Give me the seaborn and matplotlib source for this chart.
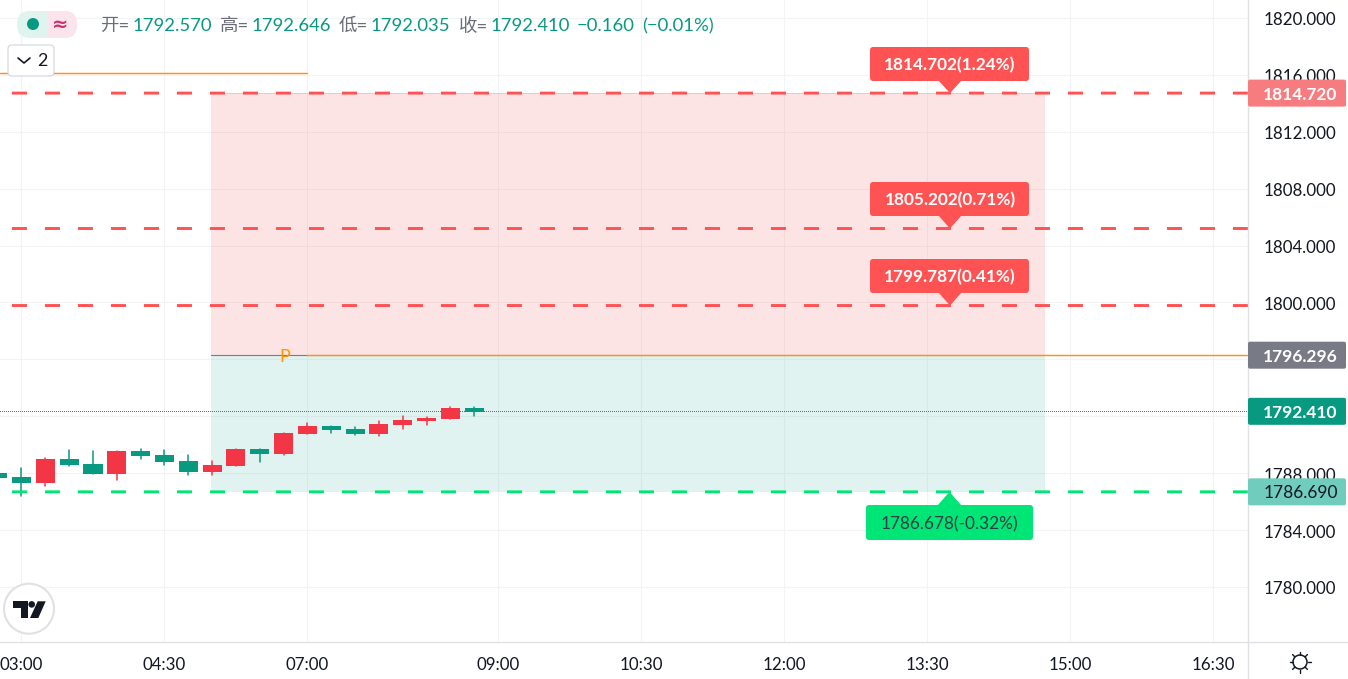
import numpy as np
import pandas as pd
import matplotlib
matplotlib.use("Agg")
import matplotlib.pyplot as plt
from matplotlib.patches import Circle, FancyBboxPatch, Polygon, Rectangle
from matplotlib.transforms import ScaledTranslation
import seaborn as sns

# 15 minute bars, bar number 0 is the 03:00 candle
bar_ids = list(range(-1, 20))
opens = [1788.01, 1787.73, 1787.31, 1789.00, 1788.65, 1787.94, 1789.56, 1789.28, 1788.86, 1788.08, 1788.51,
         1789.70, 1789.35, 1790.76, 1791.32, 1791.11, 1790.76, 1791.39, 1791.67, 1791.81, 1792.570]
highs = [1788.01, 1788.37, 1789.07, 1789.63, 1789.56, 1789.56, 1789.70, 1789.63, 1789.28, 1788.86, 1789.70,
         1789.70, 1790.83, 1791.53, 1791.32, 1791.25, 1791.67, 1792.02, 1791.95, 1792.65, 1792.646]
lows = [1787.66, 1786.40, 1787.10, 1788.51, 1787.94, 1787.52, 1789.00, 1788.58, 1787.87, 1787.87, 1788.51,
        1788.79, 1789.28, 1790.76, 1790.83, 1790.69, 1790.62, 1791.11, 1791.39, 1791.81, 1792.035]
closes = [1787.66, 1787.31, 1789.00, 1788.58, 1787.94, 1789.56, 1789.21, 1788.79, 1788.08, 1788.58, 1789.70,
          1789.35, 1790.83, 1791.32, 1791.04, 1790.76, 1791.46, 1791.74, 1791.88, 1792.58, 1792.33]

time_bars = [0, 6, 12, 20, 26, 32, 38, 44, 50]
time_labels = ["03:00", "04:30", "07:00", "09:00", "10:30", "12:00", "13:30", "15:00", "16:30"]
price_ticks = [1780, 1784, 1788, 1792, 1796, 1800, 1804, 1808, 1812, 1816, 1820]
# 1792 and 1796 sit behind the price tags
price_labels = ["1780.000", "1784.000", "1788.000", "", "", "1800.000", "1804.000", "1808.000", "1812.000",
                "1816.000", "1820.000"]

entry = 1796.296
last_close = 1792.35
old_level = 1816.13
stop_levels = [1814.720, 1805.202, 1799.787]
stop_labels = ["1814.702(1.24%)", "1805.202(0.71%)", "1799.787(0.41%)"]
target_level = 1786.690
target_label = "1786.678(-0.32%)"
zone_top = 1814.720
zone_bottom = 1786.690

legend_parts = [("开=", 100), ("1792.570", 133), ("高=", 220), ("1792.646", 252), ("低=", 339), ("1792.035", 371),
                ("收=", 459), ("1792.410", 491), ("−0.160", 577), ("(−0.01%)", 642)]

UP = "#f23645"
DOWN = "#089981"
STOP = "#ff5252"
TARGET = "#00e676"
ORANGE = "#f7931a"
GRID = "#f2f3f5"
BORDER = "#e0e1e4"
INK = "#131722"

sns.set_theme(style="white")
plt.rcParams["font.family"] = ["Lato", "Noto Sans CJK SC", "DejaVu Sans"]
plt.rcParams["lines.scale_dashes"] = False

W, H = 1348, 679
fig = plt.figure(figsize=(W / 100, H / 100), dpi=100, facecolor="white")
ax = fig.add_axes([0, 37 / H, 1248 / W, 642 / H])

# zones first so the grid shows through
zone_start, zone_end = 7.96, 42.95
ax.fill_between([zone_start, zone_end], entry, zone_top, color="#f85050", alpha=0.15, lw=0, zorder=1)
ax.fill_between([zone_start, zone_end], zone_bottom, entry, color="#05a38a", alpha=0.12, lw=0, zorder=1)

candles = pd.DataFrame({"bar": bar_ids, "open": opens, "high": highs, "low": lows, "close": closes})
candles["side"] = np.where(candles["close"] >= candles["open"], "up", "down")
candles["body_low"] = candles[["open", "close"]].min(axis=1)
candles["body_size"] = (candles["close"] - candles["open"]).abs()
palette = {"up": UP, "down": DOWN}

wicks = candles.melt(id_vars=["bar", "side"], value_vars=["low", "high"], value_name="price")
sns.lineplot(data=wicks, x="bar", y="price", hue="side", units="bar", estimator=None, sort=False,
             palette=palette, linewidth=1.1, legend=False, ax=ax, zorder=4)
for side, rows in candles.groupby("side"):
    sns.barplot(data=rows, x="bar", y="body_size", bottom=rows["body_low"].to_numpy(), native_scale=True,
                color=palette[side], saturation=1, width=0.8, errorbar=None, linewidth=0, ax=ax, zorder=5)

x_min, x_max = -0.902, 51.47
line_start = -0.4
dash = (0, (15 * 0.72, 18 * 0.72))
for level in stop_levels:
    ax.plot([line_start, x_max], [level, level], color=STOP, lw=2.1, linestyle=dash, dash_capstyle="butt",
            snap=False, zorder=6)
ax.plot([line_start, x_max], [target_level, target_level], color=TARGET, lw=2.1, linestyle=dash,
        dash_capstyle="butt", snap=False, zorder=6)

ax.plot([zone_start, 12], [entry, entry], color="#787b86", lw=0.8, zorder=6)
ax.plot([12, x_max], [entry, entry], color=ORANGE, lw=1.05, zorder=6)
ax.plot([x_min, 12], [old_level, old_level], color=ORANGE, lw=1.05, zorder=6)
ax.plot([x_min, x_max], [last_close, last_close], color=DOWN, lw=0.75, linestyle=(0, (0.72, 1.44)),
        antialiased=False, zorder=3)
ax.plot([zone_start, zone_end], [zone_top, zone_top], color="#d9c9cc", lw=0.6, zorder=2)
ax.text(11.05, entry - 0.12, "P", color="#ff9800", fontsize=13, ha="center", va="center", zorder=7)

ax.set_xlim(x_min, x_max)
ax.set_ylim(1780 - 55 / 14.225, 1780 + 587 / 14.225)
ax.set_xticks(time_bars, time_labels)
ax.set_yticks(price_ticks, price_labels)
ax.yaxis.tick_right()
ax.tick_params(axis="x", length=0, pad=11, labelsize=12.2, labelcolor=INK)
ax.tick_params(axis="y", length=0, pad=11.5, labelsize=12.2, labelcolor=INK)
ax.set_xlabel("")
ax.set_ylabel("")
ax.grid(True, color=GRID, lw=0.75)
ax.set_axisbelow(True)
for spine in ax.spines.values():
    spine.set_visible(False)
for label in ax.get_yticklabels():
    label.set_transform(label.get_transform() + ScaledTranslation(0, -1 / 100, fig.dpi_scale_trans))

# overlay in screen pixels for tags and chart furniture
ov = fig.add_axes([0, 0, 1, 1], zorder=10)
ov.set_xlim(0, W)
ov.set_ylim(H, 0)
ov.axis("off")


def py(price):
    return H - ax.transData.transform((0, price))[1]


def box(x0, y0, x1, y1, color, round_px=3, edge="none", lw=0, z=3):
    ov.add_patch(FancyBboxPatch((x0 + round_px, y0 + round_px), x1 - x0 - 2 * round_px, y1 - y0 - 2 * round_px,
                                boxstyle=f"round,pad={round_px},rounding_size={round_px}",
                                facecolor=color, edgecolor=edge, lw=lw, zorder=z))


ov.plot([0, W], [642, 642], color=BORDER, lw=1.0, zorder=1)
ov.plot([1248, 1248], [0, H], color=BORDER, lw=1.0, zorder=1)

# tags on the price scale
scale_tags = [(zone_top, "1814.720", "#f77c80", "white", "bold"), (entry, "1796.296", "#787b86", "white", "bold"),
              (last_close, "1792.410", DOWN, "white", "bold"), (target_level, "1786.690", "#70ccbd", INK, "normal")]
for price, label, bg, fg, weight in scale_tags:
    y = py(price)
    box(1248, y - 13.5, 1346, y + 13.5, bg, round_px=2)
    ov.text(1300.5, y + 1.5, label, color=fg, fontsize=12.5, fontweight=weight, ha="center", va="center", zorder=4)

# stop and target callouts
callout_tops = [47, 182, 259]
for level, label, top in zip(stop_levels, stop_labels, callout_tops):
    box(870, top, 1029, top + 34, STOP, round_px=3)
    ov.add_patch(Polygon([(938, top + 33), (962, top + 33), (950, py(level))], facecolor=STOP, lw=0, zorder=3))
    ov.text(950, top + 18, label, color="white", fontsize=12.4, fontweight="bold", ha="center", va="center", zorder=4)

box(866, 505, 1033, 540, TARGET, round_px=3)
ov.add_patch(Polygon([(937, 506), (962, 506), (949.5, py(target_level))], facecolor=TARGET, lw=0, zorder=3))
ov.text(949.5, 524, target_label, color="#2e3f48", fontsize=12.4, ha="center", va="center", zorder=4)

# legend line
for text, x in legend_parts:
    color = "#6a6d78" if text.endswith("=") else DOWN
    ov.text(x, 26, text, color=color, fontsize=13.3, ha="left", va="center", zorder=4)

# status pill
box(17, 11, 77, 38, "#dff3ef", round_px=13, z=2)
box(47, 11, 77, 38, "#fce4ec", round_px=13, z=2)
ov.add_patch(Rectangle((47, 11), 12, 27, facecolor="#fce4ec", lw=0, zorder=2))
ov.add_patch(Circle((33, 24), 6, facecolor=DOWN, lw=0, zorder=3))
ov.text(60, 24, "≈", color="#cc2f6c", fontsize=14, fontweight="bold", family="DejaVu Sans",
        ha="center", va="center", zorder=3)

# collapse button
box(8, 45, 54, 76, "white", round_px=4, edge="#d1d4dc", lw=0.8, z=5)
ov.plot([18, 24, 30], [58, 63, 58], color=INK, lw=1.2, zorder=6)
ov.text(42, 61, "2", color=INK, fontsize=13, ha="center", va="center", zorder=6)

# logo badge
ov.add_patch(Circle((29, 608.7), 25, facecolor="white", edgecolor=BORDER, lw=1.5, zorder=3))
ov.add_patch(Polygon([(13.3, 601.3), (28.3, 601.3), (28.3, 618), (21, 618), (21, 607.7), (13.3, 607.7)],
                     facecolor=INK, lw=0, zorder=4))
ov.add_patch(Circle((31.7, 604.4), 3.3, facecolor=INK, lw=0, zorder=4))
ov.add_patch(Polygon([(37.7, 601.3), (45.7, 601.3), (38.3, 618), (30, 618)], facecolor=INK, lw=0, zorder=4))

# sun icon
ov.add_patch(Circle((1300, 662), 7, facecolor="none", edgecolor=INK, lw=1.1, zorder=4))
for angle in np.deg2rad(np.arange(0, 360, 45)):
    ov.plot([1300 + 7.5 * np.cos(angle), 1300 + 10.5 * np.cos(angle)],
            [662 + 7.5 * np.sin(angle), 662 + 10.5 * np.sin(angle)], color=INK, lw=1.0, zorder=4)

fig.savefig("out.png", dpi=100)
